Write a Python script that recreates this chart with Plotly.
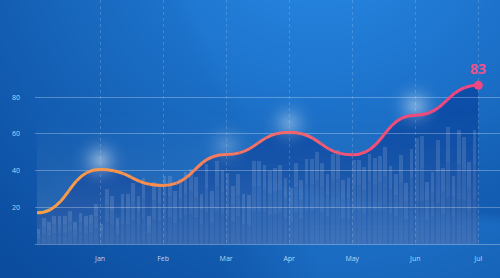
import base64, zlib, struct
import numpy as np
import plotly.graph_objects as go

# ---------------- data ----------------
months = ["Jan", "Feb", "Mar", "Apr", "May", "Jun", "Jul"]
month_pos = [1, 2, 3, 4, 5, 6, 7]
line_x = [0, 1, 2, 3, 4, 5, 6, 7]
line_values = [17.0, 40.6, 31.9, 48.8, 60.9, 48.6, 70.2, 86.5]
callout_text = "83"
y_ticks = [20, 40, 60, 80]
bar_values = [
    8, 14, 12, 15.5, 15, 15.5, 18, 12, 17, 15, 16, 22,
    11, 30, 26, 14, 27, 27, 33, 26, 36, 15, 34, 32,
    37, 37, 29, 35.5, 39, 41, 36.5, 27, 43.5, 29, 45.5, 40.5,
    38.5, 31.5, 38, 27, 26.5, 45, 45.5, 43, 40, 41.5, 43, 36,
    30.5, 44, 35, 46.5, 46.5, 50, 44, 38, 48.8, 51, 35, 36,
    46, 46, 42, 49, 47, 48, 53, 42.5, 38, 48.5, 33.5, 52,
    58, 59, 34, 39.5, 56.5, 41.5, 64, 37, 62, 58.5, 44.5, 62,
]
bars_per_month = 12
glow_idx = [1, 3, 4, 6]
glow_strength = [0.42, 0.2, 0.32, 0.38]

# ---------------- helpers ----------------
def png_uri(rgba):
    rgba = np.clip(rgba, 0, 255).astype(np.uint8)
    h, w, _ = rgba.shape
    raw = b"".join(b"\x00" + rgba[r].tobytes() for r in range(h))
    def chunk(t, d):
        c = struct.pack(">I", len(d)) + t + d
        return c + struct.pack(">I", zlib.crc32(t + d) & 0xffffffff)
    png = (b"\x89PNG\r\n\x1a\n" + chunk(b"IHDR", struct.pack(">IIBBBBB", w, h, 8, 6, 0, 0, 0))
           + chunk(b"IDAT", zlib.compress(raw, 9)) + chunk(b"IEND", b""))
    return "data:image/png;base64," + base64.b64encode(png).decode()

W, H = 500, 278
ML, MB = 35, 34

# background
yy, xx = np.mgrid[0:H, 0:W].astype(float)
d = np.hypot(xx - 320, yy + 100)
f = np.clip(1 - d / 480, 0, 1)
dark = np.array([11, 76, 158.0]); bright = np.array([40, 138, 230.0])
bg = dark + f[..., None] * (bright - dark)
da = np.hypot(xx - 520, yy + 120)
arc = np.clip((362 - da) / 18 + 0.5, 0, 1) * np.clip((150 - yy) / 60, 0, 1)
bg += arc[..., None] * np.array([2, 4, 5.0])
xb = [200, 250, 300, 350, 420, 500]
ybnd = [150, 175, 187, 198, 212, 218]
yb = np.interp(xx, xb, ybnd)
wave = np.clip((yy - yb) / 12 + 0.5, 0, 1) * np.clip((xx - 220) / 100, 0, 1)
bg += wave[..., None] * np.array([8, 16, 18.0])
bg_rgba = np.concatenate([bg, np.full((H, W, 1), 255.0)], axis=2)
bg_uri = png_uri(bg_rgba)

# light plot region (vertical fade)
n = 120
v = np.linspace(80, 0, n)
alpha = 0.17 * (1 - v / 80) ** 1.5
lr = np.zeros((n, 4, 4))
lr[..., :3] = 255
lr[..., 3] = (alpha * 255)[:, None]
light_uri = png_uri(lr)

# glow (soft gaussian)
g = 96
gy, gx = np.mgrid[0:g, 0:g].astype(float)
r = np.hypot(gx - (g - 1) / 2, gy - (g - 1) / 2) / (g / 2)
ga = np.zeros((g, g, 4)); ga[..., :3] = 255
ga[..., 3] = 255 * np.exp(-(r / 0.42) ** 2) * np.clip(1 - r, 0, 1)
glow_uri = png_uri(ga)

# ---------------- figure ----------------
fig = go.Figure()

bar_x = [0.024 + k / bars_per_month for k in range(len(bar_values))]
bar_w = 0.058
fig.add_trace(go.Bar(x=bar_x, y=bar_values, width=bar_w, marker=dict(color="rgba(255,255,255,0.05)", line_width=0)))
fig.add_trace(go.Bar(x=bar_x, y=[b * 0.6 for b in bar_values], base=[b * 0.4 for b in bar_values], width=bar_w,
                     marker=dict(color="rgba(255,255,255,0.045)", line_width=0)))
fig.add_trace(go.Bar(x=bar_x, y=[b * 0.3 for b in bar_values], base=[b * 0.7 for b in bar_values], width=bar_w,
                     marker=dict(color="rgba(255,255,255,0.045)", line_width=0)))

fig.add_trace(go.Scatter(x=[line_x[-1]], y=[line_values[-1]], mode="markers",
                         marker=dict(size=9, color="rgb(238,72,130)")))

# bump-x curve segments
def split(b, t):
    p0, p1, p2, p3 = [np.array(p, float) for p in b]
    a = p0 + (p1 - p0) * t; q = p1 + (p2 - p1) * t; c = p2 + (p3 - p2) * t
    dd = a + (q - a) * t; e = q + (c - q) * t
    ff = dd + (e - dd) * t
    return [p0, a, dd, ff], [ff, e, c, p3]

def sub(b, ta, tb):
    left, _ = split(b, tb)
    if ta == 0:
        return left
    _, right = split(left, ta / tb)
    return right

segs = []
for i in range(len(line_x) - 1):
    x0, y0, x1, y1 = line_x[i], line_values[i], line_x[i + 1], line_values[i + 1]
    xm = (x0 + x1) / 2
    segs.append([(x0, y0), (xm, y0), (xm, y1), (x1, y1)])

cstops_x = [0, 2, 3, 4, 5, 6, 7]
cstops = np.array([[250, 160, 72], [249, 142, 80], [246, 120, 98], [244, 102, 108],
                   [242, 84, 118], [240, 74, 126], [238, 70, 130]], float)
def col_at(x):
    return "rgb(%d,%d,%d)" % tuple(np.interp(x, cstops_x, cstops[:, k]) for k in range(3))

fmt = lambda p: "%.4f,%.4f" % (p[0], p[1])
area = "M%s L%s" % (fmt((line_x[0], 0)), fmt((line_x[0], line_values[0])))
for s in segs:
    area += " C%s %s %s" % (fmt(s[1]), fmt(s[2]), fmt(s[3]))
area += " L%s Z" % fmt((line_x[-1], 0))

shapes = [dict(type="path", path=area, xref="x", yref="y", layer="below",
               fillcolor="rgba(5,60,150,0.62)", line=dict(width=0))]
NSUB = 6
for s in segs:
    for j in range(NSUB):
        p = sub(s, j / NSUB, (j + 1) / NSUB)
        shapes.append(dict(type="path", xref="x", yref="y", layer="above",
                           path="M%s C%s %s %s" % (fmt(p[0]), fmt(p[1]), fmt(p[2]), fmt(p[3])),
                           line=dict(color=col_at((p[0][0] + p[3][0]) / 2), width=3)))

images = [dict(source=bg_uri, xref="paper", yref="paper", x=-ML / (W - ML), y=1,
               sizex=W / (W - ML), sizey=H / (H - MB), xanchor="left", yanchor="top",
               sizing="stretch", layer="below"),
          dict(source=light_uri, xref="x", yref="y", x=line_x[0], y=80, sizex=line_x[-1] - line_x[0],
               sizey=80, xanchor="left", yanchor="top", sizing="stretch", layer="below")]
for gi, gs in zip(glow_idx, glow_strength):
    images.append(dict(source=glow_uri, xref="x", yref="y", x=line_x[gi], y=line_values[gi] + 5,
                       sizex=1.3, sizey=45, xanchor="center", yanchor="middle", sizing="stretch",
                       layer="below", opacity=gs))

tickfont = dict(family="Open Sans", size=7, color="rgba(220,232,255,0.85)")
fig.update_layout(
    width=W, height=H, margin=dict(l=ML, r=0, t=0, b=MB),
    paper_bgcolor="#1560b5", plot_bgcolor="rgba(0,0,0,0)",
    barmode="overlay", showlegend=False, bargap=0,
    shapes=shapes, images=images,
    xaxis=dict(range=[-0.032, 7.344], tickvals=month_pos, ticktext=months, showgrid=True,
               gridcolor="rgba(255,255,255,0.17)", griddash="dot", gridwidth=1,
               showline=True, linecolor="rgba(255,255,255,0.3)", linewidth=1,
               zeroline=False, ticks="", tickfont=tickfont, ticklabelstandoff=8, fixedrange=True),
    yaxis=dict(range=[0, 133], tickvals=y_ticks, showgrid=True, gridcolor="rgba(255,255,255,0.28)",
               gridwidth=1, zeroline=False, ticks="", tickfont=tickfont, ticklabelstandoff=14,
               fixedrange=True),
    annotations=[dict(x=line_x[-1], y=line_values[-1], xref="x", yref="y", text=callout_text,
                      showarrow=False, yshift=17,
                      font=dict(family="Open Sans", size=14, color="rgb(240,80,138)", weight="bold"))],
)
fig.write_html("out.html", config={"displayModeBar": False})
